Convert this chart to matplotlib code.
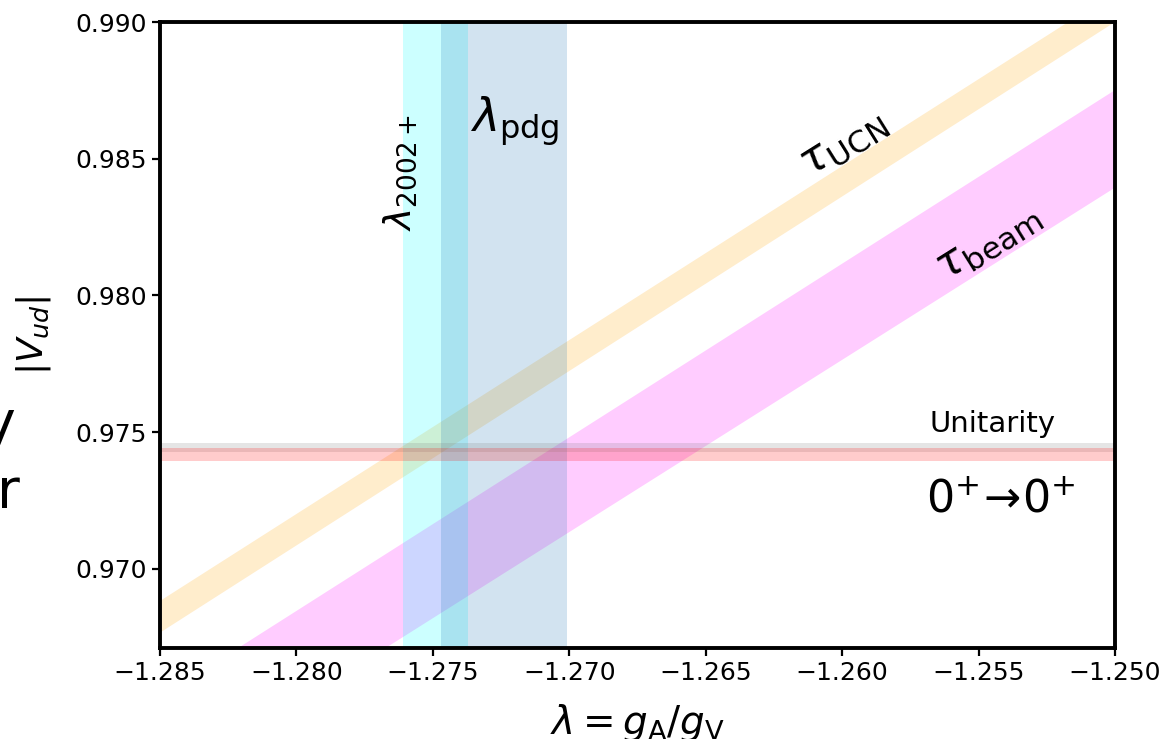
import numpy as np
import matplotlib
matplotlib.use('Agg')
import matplotlib.pyplot as plt

# axis ranges and ticks
x_lim = (-1.285, -1.250)
y_lim = (0.9671, 0.990)
x_ticks = [-1.285, -1.280, -1.275, -1.270, -1.265, -1.260, -1.255, -1.250]
x_tick_labels = ['\u22121.285', '\u22121.280', '\u22121.275', '\u22121.270',
                 '\u22121.265', '\u22121.260', '\u22121.255', '\u22121.250']
y_ticks = [0.970, 0.975, 0.980, 0.985, 0.990]
y_tick_labels = ['0.970', '0.975', '0.980', '0.985', '0.990']

# vertical bands: lambda measurements (centre, half width)
lam_2002 = (-1.2749, 0.0012)
lam_pdg = (-1.2724, 0.0023)

# horizontal bands: |Vud| (centre, half width)
vud_unitarity = (0.97444, 0.00017)
vud_superallowed = (0.97418, 0.00023)

# diagonal bands: band edges read at lambda = -1.285 and -1.250
band_lam = [-1.285, -1.250]
ucn_lo = [0.96769, 0.99003]
ucn_hi = [0.96885, 0.99112]
beam_lo = [0.96192, 0.98397]
beam_hi = [0.96531, 0.98754]

fig = plt.figure(figsize=(11.67, 7.39), dpi=100)
ax = fig.add_axes([160/1167, 1 - 648/739, 955/1167, 626/739])

ax.fill_between(band_lam, ucn_lo, ucn_hi, color='orange', alpha=0.2, lw=0)
ax.fill_between(band_lam, beam_lo, beam_hi, color='magenta', alpha=0.2, lw=0)

ax.axvspan(lam_2002[0] - lam_2002[1], lam_2002[0] + lam_2002[1],
           color='cyan', alpha=0.2, lw=0)
ax.axvspan(lam_pdg[0] - lam_pdg[1], lam_pdg[0] + lam_pdg[1],
           color='C0', alpha=0.2, lw=0)

ax.axhspan(vud_unitarity[0] - vud_unitarity[1], vud_unitarity[0] + vud_unitarity[1],
           color='gray', alpha=0.2, lw=0)
ax.axhspan(vud_superallowed[0] - vud_superallowed[1],
           vud_superallowed[0] + vud_superallowed[1],
           color='red', alpha=0.2, lw=0)

ax.set_xlim(*x_lim)
ax.set_ylim(*y_lim)
ax.set_xticks(x_ticks)
ax.set_xticklabels(x_tick_labels)
ax.set_yticks(y_ticks)
ax.set_yticklabels(y_tick_labels)
ax.tick_params(labelsize=18, length=6, width=1.6, direction='out')
for spine in ax.spines.values():
    spine.set_linewidth(2.8)

# labels on the plot
ax.text(-1.27364, 0.98598, r'$\lambda_{\rm pdg}$', fontsize=33,
        ha='left', va='baseline')
ax.text(-1.27618, 0.98451, r'$\lambda_{2002+}$', fontsize=27,
        ha='center', va='center', rotation=90)
ax.text(-1.26000, 0.98560, r'$\tau_{\rm UCN}$', fontsize=32,
        ha='center', va='center', rotation=32)
ax.text(-1.25470, 0.98200, r'$\tau_{\rm beam}$', fontsize=32,
        ha='center', va='center', rotation=32)
ax.text(-1.25447, 0.97500, 'Unitarity', fontsize=21, ha='center', va='baseline')
ax.text(-1.25420, 0.97207, r'$0^{+}\!\rightarrow\!0^{+}$', fontsize=32,
        ha='center', va='baseline')

ax.set_xlabel(r'$\lambda = g_{\rm A}/g_{\rm V}$', fontsize=28)
ax.xaxis.set_label_coords(0.5, -0.086)
ax.set_ylabel(r'$|V_{ud}|$', fontsize=26)
ax.yaxis.set_label_coords(-0.112, 0.5)

# fragments of text cut off at the left edge
fig.text(15/1167, 1 - 440/739, 'y', fontsize=40, ha='right', va='baseline')
fig.text(20/1167, 1 - 508/739, 'r', fontsize=40, ha='right', va='baseline')

fig.savefig('out.png', dpi=100)
